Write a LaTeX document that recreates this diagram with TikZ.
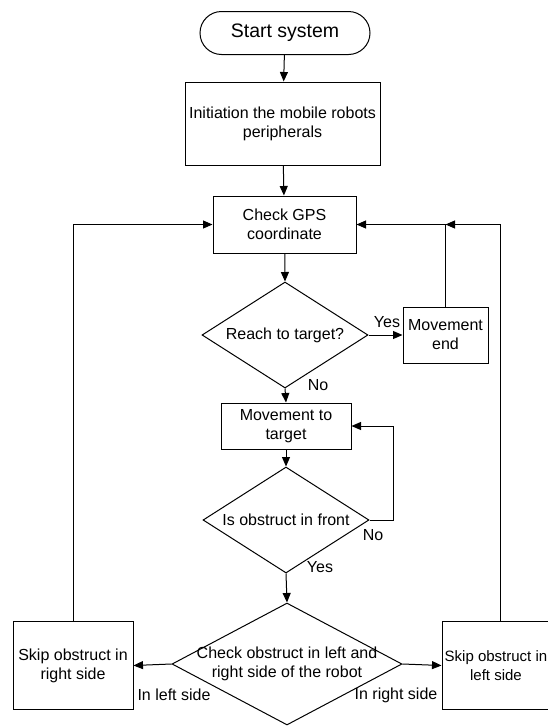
\documentclass[tikz,border=0pt]{standalone}
\usepackage{fontspec}
\setmainfont{Liberation Sans}
\usetikzlibrary{shapes.geometric,shapes.misc,arrows.meta}
\begin{document}
\begin{tikzpicture}[x=1pt,y=-1pt,
  line width=1pt,
  txt/.style={font=\fontsize{16}{19}\selectfont, align=center},
  boxnode/.style={draw, rectangle, inner sep=0pt, txt},
  decision/.style={draw, diamond, inner sep=0pt},
  arr/.style={-{Triangle[length=9.5pt,width=8pt]}},
  lbl/.style={txt, inner sep=0pt}
]
\useasboundingbox (0,0) rectangle (548,726);
\clip (0,0) rectangle (548,726);

\node[draw, rounded rectangle, inner sep=0pt, minimum width=170pt, minimum height=43pt,
      font=\fontsize{19.5}{22}\selectfont] (start) at (285,33) {Start system};
\node[boxnode, minimum width=195pt, minimum height=83pt] (init) at (282.5,123.5)
  {Initiation the mobile robots\\peripherals};
\node[boxnode, minimum width=143pt, minimum height=57pt] (gps) at (284.5,224.5)
  {Check GPS\\coordinate};
\node[decision, minimum width=166pt, minimum height=106pt] (reach) at (285,335) {};
\node[lbl] (reachtxt) at (reach.center) {Reach to target?};
\node[boxnode, minimum width=85pt, minimum height=56pt] (mend) at (445.5,335)
  {Movement\\end};
\node[boxnode, minimum width=130pt, minimum height=46pt] (move) at (286,426)
  {Movement to\\target};
\node[decision, minimum width=166pt, minimum height=106pt] (obst) at (286,520) {};
\node[lbl] (obsttxt) at (obst.center) {Is obstruct in front};
\node[decision, minimum width=230pt, minimum height=122pt] (check) at (287,664) {};
\node[lbl] (checktxt) at (check.center) {Check obstruct in left and\\right side of the robot};
\node[boxnode, minimum width=120pt, minimum height=88pt] (skipR) at (73,665.5)
  {Skip obstruct in\\right side};
\node[draw, rectangle, inner sep=0pt, minimum width=116pt, minimum height=88pt] (skipL) at (500,665.5) {};
\node[lbl, font=\fontsize{15}{19}\selectfont] (skipLtxt) at ([xshift=-4pt]skipL.center)
  {Skip obstruct in\\left side};

% labels
\node[lbl] (yes1) at (387,322) {Yes};
\node[lbl] (no1) at (318,385) {No};
\node[lbl] (no2) at (373,535) {No};
\node[lbl] (yes2) at (320,567) {Yes};
\node[lbl] (inleft) at (174,695) {In left side};
\node[lbl] (inright) at (396,695) {In right side};

% connectors
\draw[arr] (start) -- (init);
\draw[arr] (init) -- (gps);
\draw[arr] (gps) -- (reach.north);
\draw[arr] (reach.east) -- (mend.west);
\draw[arr] (reach.south) -- (move.north);
\draw[arr] (move.south) -- (obst.north);
\coordinate (noloop) at (393,520);
\draw[arr] (obst.east) -- (noloop) |- (move.east);
\draw[arr] (obst.south) -- (check.north);
\draw[arr] (check.west) -- (skipR.east);
\draw[arr] (check.east) -- (skipL.west);
\draw[arr] (skipR.north) |- (gps.west);
\draw[arr] (mend.north) |- (gps.east);
\coordinate (junc) at (mend.north |- gps.east);
\draw[arr] (skipL.north) |- (junc);
\end{tikzpicture}
\end{document}
